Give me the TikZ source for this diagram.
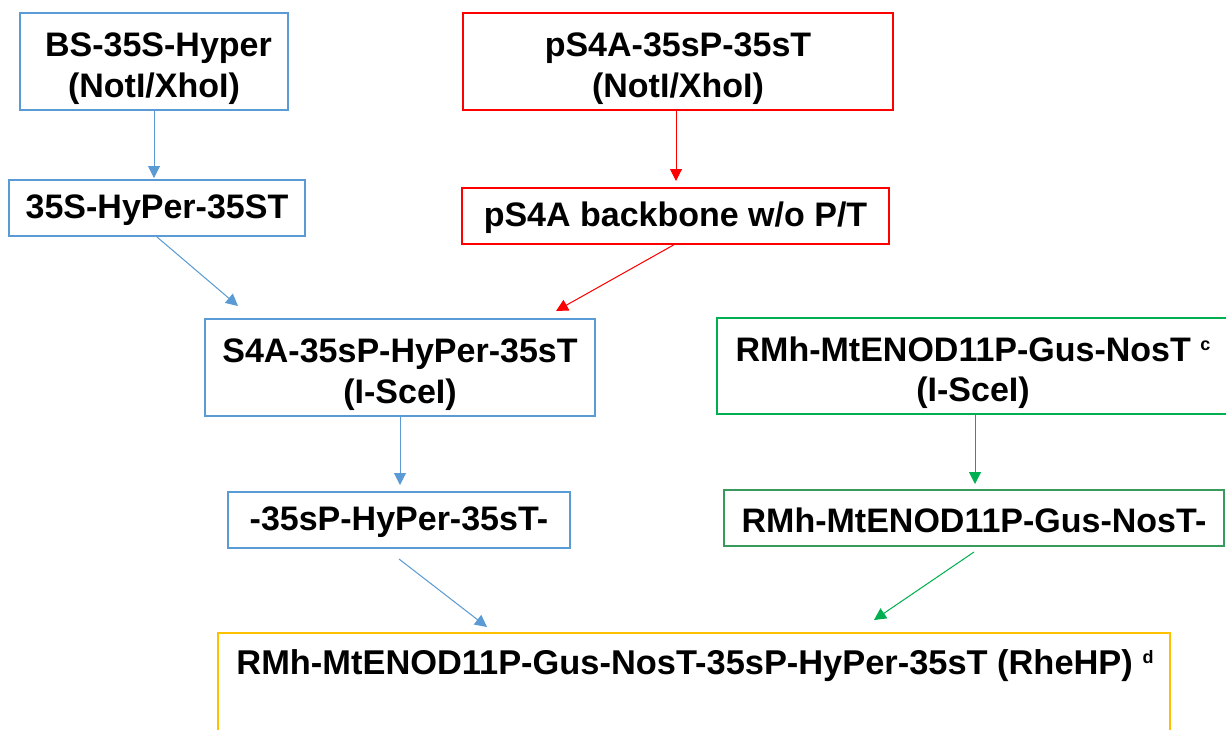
\documentclass[tikz,border=0pt]{standalone}
\usepackage{fontspec}
\setmainfont{Liberation Sans}
\usetikzlibrary{arrows.meta,calc}
\definecolor{cblue}{HTML}{5B9BD5}
\definecolor{cred}{HTML}{FF0000}
\definecolor{cgreen}{HTML}{00B050}
\definecolor{cdkgreen}{HTML}{3A9A5C}
\definecolor{corange}{HTML}{FFC000}
\newcommand{\supnote}[1]{\raisebox{11pt}{\fontsize{18}{18}\selectfont #1}}
% invisible strut that pushes a box's text a little lower
\newcommand{\lowerby}[1]{\rule{0pt}{\dimexpr 25pt+#1\relax}}
\begin{document}
\begin{tikzpicture}[x=1pt,y=-1pt,
  box/.style={draw,line width=2pt,inner sep=0pt,align=center,fill=white,
    font=\bfseries\fontsize{34}{40.5}\selectfont},
  bluebox/.style={box,draw=cblue},
  redbox/.style={box,draw=cred},
  greenbox/.style={box,draw=cgreen},
  dkgreenbox/.style={box,draw=cdkgreen},
  orangebox/.style={box,draw=corange},
  link/.style={line width=1pt,-{Triangle[length=12pt,width=12pt]}},
  bluelink/.style={link,draw=cblue,fill=cblue},
  redlink/.style={link,draw=cred,fill=cred},
  greenlink/.style={link,draw=cgreen,fill=cgreen}]
\clip (0,0) rectangle (1226,729);
\fill[white] (0,0) rectangle (1226,729);

% left column: HyPer cassette
\node[bluebox,minimum width=268pt,minimum height=97pt] (n1) at (154,61.5)
  {\lowerby{13pt}\hspace{9pt}BS-35S-Hyper\\(NotI/XhoI)};
\node[bluebox,minimum width=296pt,minimum height=56pt] (n2) at (157,208)
  {\lowerby{4pt}35S-HyPer-35ST};

% middle column: pS4A backbone
\node[redbox,minimum width=430pt,minimum height=97pt] (n3) at (678,61.5)
  {\lowerby{13pt}pS4A-35sP-35sT\\(NotI/XhoI)};
\node[redbox,minimum width=427pt,minimum height=56pt] (n4) at (675.5,216)
  {\lowerby{4pt}pS4A backbone w/o P/T};

% combined vector and its excised fragment
\node[bluebox,minimum width=390pt,minimum height=97pt] (n5) at (400,367.5)
  {\lowerby{13pt}S4A-35sP-HyPer-35sT\\(I-SceI)};
\node[bluebox,minimum width=342pt,minimum height=56pt] (n6) at (399,520)
  {\lowerby{4pt}-35sP-HyPer-35sT-};

% right column: reporter vector
\node[greenbox,minimum width=512pt,minimum height=96pt] (n7) at (973,366)
  {\lowerby{13pt}RMh-MtENOD11P-Gus-NosT \supnote{c}\\(I-SceI)};
\node[dkgreenbox,minimum width=500pt,minimum height=56pt] (n8) at (974,518)
  {\lowerby{4pt}RMh-MtENOD11P-Gus-NosT-};

% final construct
\node[orangebox,minimum width=952pt,minimum height=180pt] (n9) at (694,723) {};
\node[anchor=base,inner sep=0pt,font=\bfseries\fontsize{34.4}{41}\selectfont] (n9t) at (695,674)
  {RMh-MtENOD11P-Gus-NosT-35sP-HyPer-35sT (RheHP) \supnote{d}};

% connectors
\draw[bluelink] (n1.south) -- ([yshift=1pt]n1.south |- n2.north);
\draw[bluelink] (n2.south) -- ($(n5.north west)+(34,-12)$);
\draw[redlink] ([xshift=-2pt]n3.south) -- ([xshift=-2pt,yshift=6pt]n3.south |- n4.north);
\draw[redlink] ([xshift=-2pt]n4.south) -- ($(n5.north east)+(-40,-7)$);
\draw[bluelink] (n5.south) -- ([yshift=6pt]n5.south |- n6.north);
\draw[bluelink] ([yshift=-10pt]n6.south) -- ($(n9.north west)+(270,-5)$);
\draw[greenlink] ([xshift=2pt]n7.south) -- ([xshift=2pt,yshift=5pt]n7.south |- n8.north);
\draw[greenlink] ([yshift=-5pt]n8.south) -- ($(n9.north west)+(657,-12)$);
\end{tikzpicture}
\end{document}
